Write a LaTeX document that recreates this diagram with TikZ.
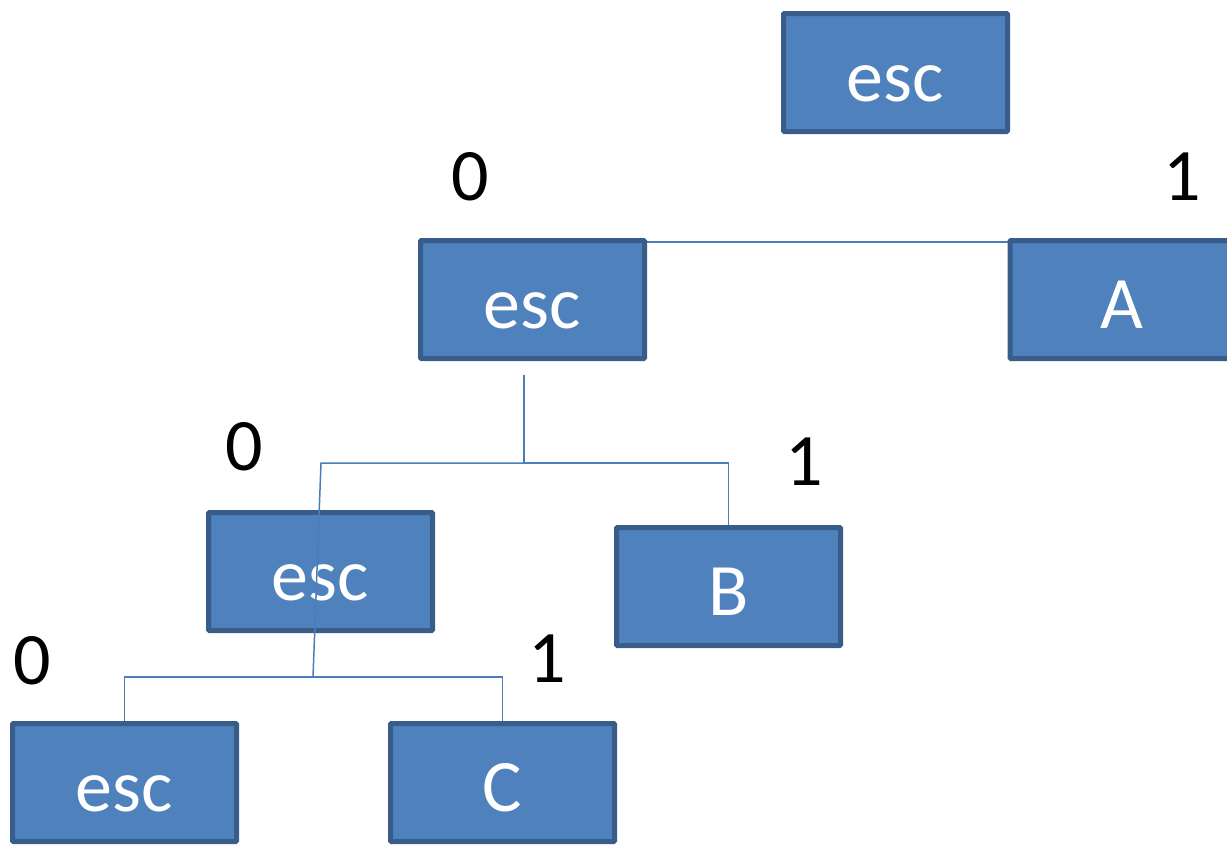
\documentclass[tikz,border=0pt]{standalone}
\usepackage{fontspec}
\setmainfont{Carlito}
\usetikzlibrary{backgrounds}
\definecolor{boxfill}{HTML}{4F81BD}
\definecolor{boxline}{HTML}{385D8A}
\definecolor{wire}{HTML}{4A7EBB}
\begin{document}
\begin{tikzpicture}[x=1pt,y=-1pt,
  treebox/.style={draw=boxline, fill=boxfill, line width=5pt, minimum width=224pt, minimum height=118pt, inner sep=0pt, text=white, font=\fontsize{74}{88}\selectfont, text height=57pt, text depth=0pt, rounded corners=1pt},
  bitlabel/.style={font=\fontsize{74}{88}\selectfont, inner sep=0pt, text=black},
  wireline/.style={draw=wire, line width=1.5pt}]
\useasboundingbox (0,0) rectangle (1227,844);
\node[treebox] (r) at (895.5,72.5) {esc};
\node[treebox] (e1) at (532.5,299.5) {esc};
\node[treebox] (a) at (1122,299.5) {A};
\node[treebox] (e2) at (320.5,571.5) {esc};
\node[treebox] (b) at (728.5,586.5) {B};
\node[treebox] (e3) at (124.5,782.5) {esc};
\node[treebox] (c) at (502.5,782.5) {C};
\begin{scope}[on background layer]
\draw[wireline] (e1.north) -- ++(0,4) -| (a.north);
\end{scope}
\coordinate (s1) at (524,375);
\coordinate (j1) at (524,463);
\coordinate (k1) at (321,463);
\coordinate (j2) at (313,677);
\draw[wireline] (s1) -- (j1) -| (b.north);
\draw[wireline] (j1) -- (k1) -- (j2);
\draw[wireline] (e3.north) |- (j2) -| (c.north);
\node[bitlabel] (l1) at (470,177) {0};
\node[bitlabel] (l2) at (1182,177) {1};
\node[bitlabel] (l3) at (244,447) {0};
\node[bitlabel] (l4) at (804,462) {1};
\node[bitlabel] (l5) at (32,661) {0};
\node[bitlabel] (l6) at (547,659) {1};
\end{tikzpicture}
\end{document}
